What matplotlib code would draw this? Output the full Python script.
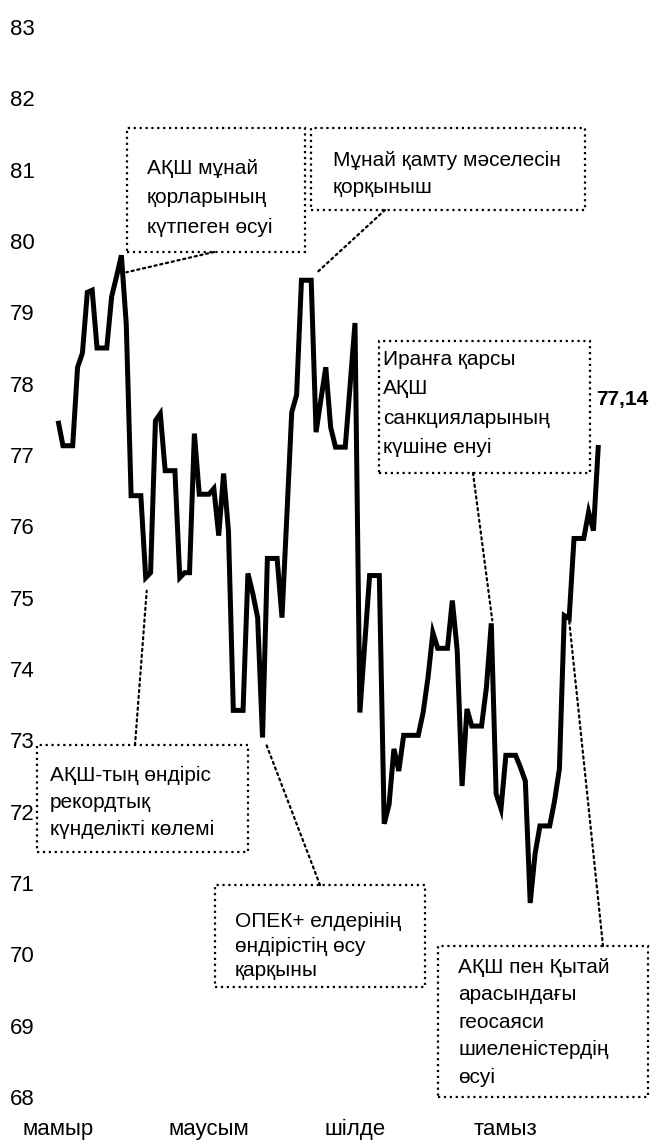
import datetime as dt
import matplotlib
matplotlib.use('Agg')
import matplotlib.pyplot as plt
import matplotlib.dates as mdates
from matplotlib.patches import Rectangle

plt.rcParams['font.family'] = ['Liberation Sans', 'DejaVu Sans']

# daily prices (weekends carry Friday's value), 3 May - 22 Aug
start = dt.date(2018, 5, 3)
prices = [
    77.48, 77.13, 77.13, 77.13, 78.23, 78.43, 79.28, 79.31, 78.50, 78.50,
    78.50, 79.22, 79.50, 79.80, 78.84, 76.43, 76.43, 76.43, 75.28, 75.35,
    77.48, 77.58, 76.78, 76.78, 76.78, 75.28, 75.35, 75.35, 77.30, 76.45,
    76.45, 76.45, 76.53, 75.87, 76.74, 75.94, 73.42, 73.42, 73.42, 75.34,
    75.06, 74.72, 73.04, 75.55, 75.55, 75.55, 74.72, 76.15, 77.60, 77.84,
    79.45, 79.45, 79.45, 77.32, 77.78, 78.23, 77.39, 77.11, 77.11, 77.11,
    77.98, 78.85, 73.39, 74.35, 75.31, 75.31, 75.31, 71.83, 72.10, 72.88,
    72.57, 73.07, 73.07, 73.07, 73.07, 73.39, 73.88, 74.51, 74.29, 74.29,
    74.29, 74.96, 74.26, 72.36, 73.44, 73.20, 73.20, 73.20, 73.74, 74.64,
    72.25, 72.04, 72.79, 72.79, 72.79, 72.62, 72.43, 70.72, 71.41, 71.80,
    71.80, 71.80, 72.15, 72.60, 74.75, 74.71, 75.83, 75.83, 75.83, 76.20,
    75.94, 77.14,
]
dates = [start + dt.timedelta(days=i) for i in range(len(prices))]

month_ticks = [dt.date(2018, 5, 3), dt.date(2018, 6, 3), dt.date(2018, 7, 3), dt.date(2018, 8, 3)]
month_labels = ['мамыр', 'маусым', 'шілде', 'тамыз']
y_ticks = list(range(68, 84))

# annotation texts and the day each one points to
note_texts = [
    'АҚШ мұнай\nқорларының\nкүтпеген өсуі',
    'Мұнай қамту мәселесін\nқорқыныш',
    'АҚШ-тың өндіріс\nрекордтық\nкүнделікті көлемі',
    'ОПЕК+ елдерінің\nөндірістің өсу\nқарқыны',
    'Иранға қарсы\nАҚШ\nсанкцияларының\nкүшіне енуі',
    'АҚШ пен Қытай\nарасындағы\nгеосаяси\nшиеленістердің\nөсуі',
]
note_days = [13, 52, 18, 42, 89, 105]

W, H = 651, 1144
fig = plt.figure(figsize=(W / 100, H / 100), dpi=100)


def fx(px):
    return px / W


def fy(py):
    return 1 - py / H


ax = fig.add_axes([fx(40), fy(1097), (610 - 40) / W, (1097 - 27) / H])
ax.plot(dates, prices, color='black', lw=3.6, solid_joinstyle='miter', solid_capstyle='butt')

d0 = mdates.date2num(start)
ax.set_xlim(d0 - 3.72, d0 - 3.72 + 570 / 4.867)
ax.set_ylim(68, 83)
ax.set_yticks(y_ticks)
ax.set_yticklabels([str(v) for v in y_ticks])
ax.set_xticks(month_ticks)
ax.set_xticklabels(month_labels)
ax.tick_params(axis='y', length=0, pad=4, labelsize=16)
ax.tick_params(axis='x', length=0, pad=15.5, labelsize=16)
for s in ax.spines.values():
    s.set_visible(False)

# box layout in pixels: rect (x0, y0, x1, y1), text (x, top), line spacing,
# connector start on box, offset of connector end from the data point
boxes = [
    ((127, 128, 305, 252), (147, 159), 1.69, (214, 252), (5, 17)),
    ((311, 128, 585, 210), (333, 151), 1.53, (385, 210), (5, -7)),
    ((37, 745, 248, 852), (50, 766), 1.53, (135, 745), (1, 13)),
    ((215, 885, 425, 987), (235, 912), 1.37, (320, 885), (3, 5)),
    ((379, 341, 590, 473), (383, 350), 1.69, (473, 473), (1, -3)),
    ((438, 946, 648, 1097), (458, 958), 1.56, (603, 946), (0, 2)),
]

for text, day, (rect, tpos, ls, start_pt, off) in zip(note_texts, note_days, boxes):
    x0, y0, x1, y1 = rect
    fig.add_artist(Rectangle((fx(x0), fy(y1)), (x1 - x0) / W, (y1 - y0) / H,
                             transform=fig.transFigure, fill=False, ec='black',
                             ls=':', lw=1.6))
    fig.text(fx(tpos[0]), fy(tpos[1]), text, ha='left', va='top', fontsize=15,
             linespacing=ls)
    px, py = ax.transData.transform((mdates.date2num(dates[day]), prices[day]))
    ax.annotate('', xy=(px + off[0], py - off[1]), xycoords='figure pixels',
                xytext=(start_pt[0], H - start_pt[1]), textcoords='figure pixels',
                arrowprops=dict(arrowstyle='-', ls=':', lw=1.6, color='black',
                                shrinkA=0, shrinkB=0))

ax.annotate(f'{prices[-1]:.2f}'.replace('.', ','), xy=(dates[-1], prices[-1]),
            xytext=(-1.5, 33), textcoords='offset points', ha='left', va='center',
            fontsize=15, fontweight='bold')

fig.savefig('out.png', dpi=100)
